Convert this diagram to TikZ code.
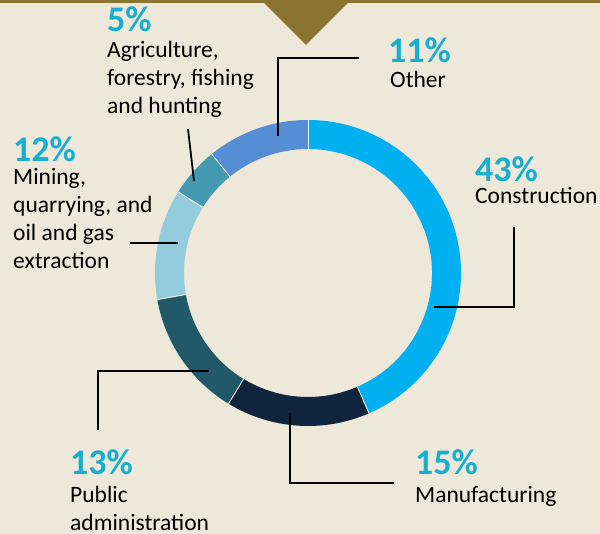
\documentclass[tikz,border=0pt]{standalone}
\usepackage{fontspec}
\setmainfont{Carlito}
\usetikzlibrary{positioning}

\definecolor{bgcol}{RGB}{237,232,217}
\definecolor{gold}{RGB}{139,116,48}
\definecolor{pct}{RGB}{23,175,207}
\definecolor{construction}{RGB}{0,176,240}
\definecolor{manufacturing}{RGB}{16,36,62}
\definecolor{publicadm}{RGB}{33,89,104}
\definecolor{mining}{RGB}{147,205,221}
\definecolor{agriculture}{RGB}{68,153,176}
\definecolor{other}{RGB}{85,142,213}

\tikzset{
  pctlabel/.style={anchor=base west, inner sep=0pt, text=pct, font=\fontsize{36}{36}\selectfont\bfseries},
  % base of a multi-line node is its last line
  sector/.style={anchor=base west, inner sep=0pt, align=left, font=\fontsize{23.5}{28}\selectfont},
  leader/.style={line width=1.8pt},
  sep/.style={draw=white!45!bgcol, line width=0.9pt}
}

\begin{document}
\begin{tikzpicture}[x=1pt, y=-1pt]
    \fill[bgcol] (0,0) rectangle (600,534);
    \useasboundingbox (0,0) rectangle (600,534);
    \fill[gold] (0,0) rectangle (600,3);
    \fill[gold] (261,0) -- (351,0) -- (306,45) -- cycle;

    % ring
    \coordinate (c) at (308,273);
    \foreach \a/\b/\col in {-90/66.5/construction, 66.5/121.3/manufacturing, 121.3/170/publicadm,
                            170/212/mining, 212/231/agriculture, 231/270/other}
        \fill[\col] (c) ++(\a:153) arc[start angle=\a, end angle=\b, radius=153]
            -- ++(\b:-29) arc[start angle=\b, end angle=\a, radius=124] -- cycle;
    \foreach \a in {66.5, 121.3, 170, 212, 231, 270}
        \draw[sep] (c) ++(\a:124) -- ++(\a:29);

    % labels
    \node[pctlabel] (p43) at (475,182) {43\%};
    \node[sector] (l43) at (475,204) {Construction};
    \node[pctlabel] (p15) at (415,475) {15\%};
    \node[sector] (l15) at (415,503) {Manufacturing};
    \node[pctlabel] (p13) at (70,475) {13\%};
    \node[sector] (l13) at (70,530) {Public\\administration};
    \node[pctlabel] (p12) at (13,162) {12\%};
    \node[sector] (l12) at (13,269) {Mining,\\quarrying, and\\oil and gas\\extraction};
    \node[pctlabel] (p5) at (107,32) {5\%};
    \node[sector] (l5) at (107,114) {Agriculture,\\forestry, fishing\\and hunting};
    \node[pctlabel] (p11) at (388,63) {11\%};
    \node[sector] (l11) at (390,88) {Other};

    % leaders
    \coordinate (con-a) at (434,307);
    \coordinate (con-b) at (514,227);
    \draw[leader] (con-a) -| (con-b);
    \coordinate (man-a) at (290,413);
    \coordinate (man-b) at (394,483);
    \draw[leader] (man-a) |- (man-b);
    \coordinate (pub-a) at (209,371);
    \coordinate (pub-b) at (98,430);
    \draw[leader] (pub-a) -| (pub-b);
    \coordinate (min-a) at (178,243);
    \coordinate (min-b) at (130,243);
    \draw[leader] (min-a) -- (min-b);
    \coordinate (agr-a) at (194,181);
    \coordinate (agr-b) at (188,129);
    \draw[leader] (agr-a) -- (agr-b);
    \coordinate (oth-a) at (278,136);
    \coordinate (oth-b) at (359,58);
    \draw[leader] (oth-a) |- (oth-b);
\end{tikzpicture}
\end{document}
